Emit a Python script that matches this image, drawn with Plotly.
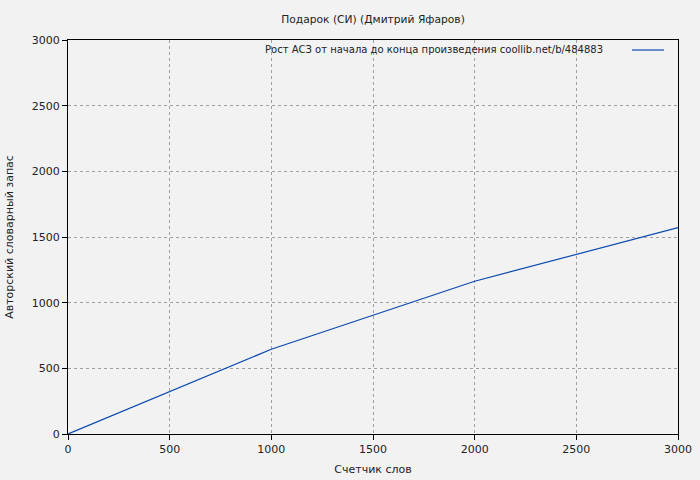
import plotly.graph_objects as go

words = [0, 1000, 2000, 3000]
vocab = [0, 645, 1163, 1572]
x_ticks = [0, 500, 1000, 1500, 2000, 2500, 3000]
y_ticks = [0, 500, 1000, 1500, 2000, 2500, 3000]
title = "Подарок (СИ) (Дмитрий Яфаров)"
legend_text = "Рост АСЗ от начала до конца произведения coollib.net/b/484883"
line_color = "#0a48b0"
font_family = "DejaVu Sans"

fig = go.Figure()
fig.add_trace(go.Scatter(x=words, y=vocab, mode="lines",
                         line=dict(color=line_color, width=1.2),
                         showlegend=False, hoverinfo="skip"))

axis_common = dict(showline=True, linecolor="black", linewidth=1, mirror=True,
                   ticks="outside", ticklen=5, tickcolor="black", automargin=False,
                   showgrid=True, gridcolor="#a0a0a0", griddash="dot", gridwidth=1,
                   zeroline=False, tickfont=dict(size=11, color="#222222"))

fig.update_layout(
    width=700, height=480,
    paper_bgcolor="#f2f2f2", plot_bgcolor="#f2f2f2",
    margin=dict(l=68, r=22, t=40, b=46),
    font=dict(family=font_family, size=11, color="#222222"),
    title=dict(text=title, xref="paper", x=0.5, xanchor="center",
               yref="container", y=1 - 19 / 480, yanchor="middle",
               font=dict(size=10.7)),
    xaxis=dict(range=[0, 3000], tickvals=x_ticks,
               title=dict(text="Счетчик слов", standoff=10, font=dict(size=11)),
               **axis_common),
    yaxis=dict(range=[0, 3000], tickvals=y_ticks,
               title=dict(text="Авторский словарный запас", font=dict(size=11)),
               **axis_common),
)

# legend drawn as text + short line sample (sample to the right of the text)
fig.add_annotation(x=(605 - 68) / 610, y=1 - (50 - 40) / 394, xref="paper", yref="paper",
                   text=legend_text, showarrow=False, xanchor="right", yanchor="middle",
                   font=dict(size=10, color="#222222"))
fig.add_shape(type="line", xref="paper", yref="paper",
              x0=(632 - 68) / 610, x1=(664 - 68) / 610,
              y0=1 - (50 - 40) / 394, y1=1 - (50 - 40) / 394,
              line=dict(color=line_color, width=1.2))

fig.write_html("out.html", config={"displayModeBar": False},
               post_script="document.body.style.margin='0';document.body.style.background='#f2f2f2';")
